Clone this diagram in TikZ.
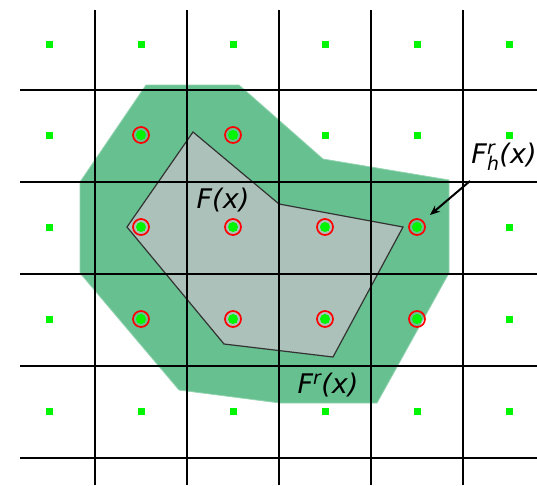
\documentclass[tikz,border=0pt]{standalone}
\usepackage{fontspec}
\setmainfont{DejaVu Sans}
\usetikzlibrary{arrows.meta}
\definecolor{setgreen}{RGB}{102,192,143}
\definecolor{setgrey}{RGB}{172,193,186}
\definecolor{dotgreen}{RGB}{0,245,0}
\begin{document}
\begin{tikzpicture}[x=1pt, y=-1pt, font=\fontsize{27}{31}\selectfont\itshape]
    \tikzset{grid line/.style={black,line width=2pt},
             lattice dot/.style={fill=dotgreen,draw=none},
             hit circle/.style={draw=red,line width=1.7pt}}
    \useasboundingbox (0,0) rectangle (537,485);

    % Enlarged set F^r(x)
    \fill[setgreen, draw=setgreen!70!white, line width=0.8pt]
      (146,85) -- (239,85) -- (323,159) -- (449,180) -- (449,273) -- (377,403)
      -- (280,403) -- (179,390) -- (80,273) -- (80,182) -- cycle;

    % Set F(x)
    \filldraw[fill=setgrey, draw=black!80, line width=1.2pt]
      (193,132) -- (279,204) -- (403,227) -- (333,357) -- (224,344) -- (127,227) -- cycle;

    % Grid lines
    \foreach \gx in {95,187,279,371,463}
      \draw[grid line] (\gx,10) -- (\gx,485);
    \foreach \gy in {90,182,274,366,458}
      \draw[grid line] (20,\gy) -- (537,\gy);

    % Lattice points
    \foreach \px in {49,141,233,325,417,509}
      \foreach \py in {44,135,227,319,411}
        \fill[lattice dot] (\px-3.5,\py-3.5) rectangle (\px+3.5,\py+3.5);

    % Lattice points in F_h^r(x)
    \foreach \px/\py in {141/135,233/135,141/227,233/227,325/227,417/227,
                         141/319,233/319,325/319,417/319}{
      \fill[lattice dot] (\px,\py) circle (5);
      \draw[hit circle] (\px,\py) circle (8);
    }

    % Labels
    \node (fx) at (223,200) {F(x)};
    \node (frx) at (328,385) {F$^{\mathit{r}}$(x)};
    \node (fhrx) at (504,157) {F$_{\mathit{h}}^{\mathit{r}}$(x)};
    \coordinate (hitpt) at (430,215);
    \draw[-{Stealth[length=10pt,width=8pt]}, line width=2pt] (470,181) -- (hitpt);
  \end{tikzpicture}
\end{document}
